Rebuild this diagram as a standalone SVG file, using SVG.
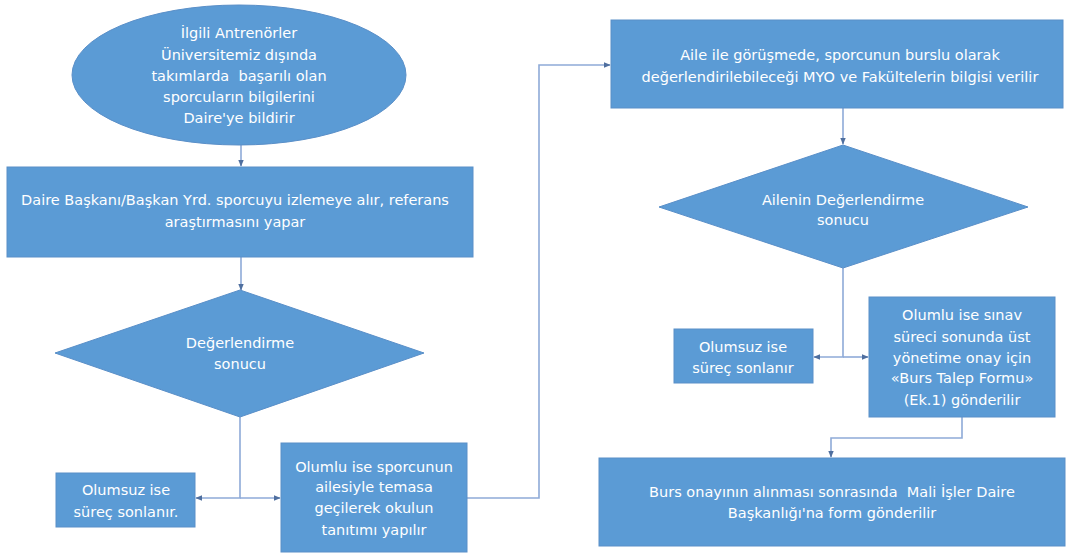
<svg xmlns="http://www.w3.org/2000/svg" width="1069" height="553" viewBox="0 0 1069 553">
<defs>
<style>
.n{fill:#5b9bd5;stroke:#5a8fc8;stroke-width:1}
.t{font-family:"DejaVu Sans",Verdana,sans-serif;font-size:14.5px;fill:#ffffff;text-anchor:middle;white-space:pre}
.c{fill:none;stroke:#8eaad8;stroke-width:1.6}
</style>
<marker id="a" viewBox="0 0 10 10" refX="9" refY="5" markerWidth="7" markerHeight="7" orient="auto" markerUnits="userSpaceOnUse">
<path d="M0,1 L10,5 L0,9 Z" fill="#4f6f9f"/>
</marker>
</defs>
<rect width="1069" height="553" fill="#ffffff"/>
<g id="connectors">
<path class="c" d="M241,145 V166" marker-end="url(#a)"/>
<path class="c" d="M241,257 V290" marker-end="url(#a)"/>
<path class="c" d="M240,417 V498 H196" marker-end="url(#a)"/>
<path class="c" d="M240,498 H280" marker-end="url(#a)"/>
<path class="c" d="M467,498 H539 V65 H610" marker-end="url(#a)"/>
<path class="c" d="M843,108 V144" marker-end="url(#a)"/>
<path class="c" d="M843,268 V357 H814" marker-end="url(#a)"/>
<path class="c" d="M843,357 H868" marker-end="url(#a)"/>
<path class="c" d="M962,417 V438 H831 V457" marker-end="url(#a)"/>
</g>
<g id="start">
<ellipse class="n" cx="239" cy="75" rx="167" ry="70"/>
<text class="t"><tspan x="239" y="38">İlgili Antrenörler</tspan><tspan x="239" y="60">Üniversitemiz dışında</tspan><tspan x="239" y="81">takımlarda  başarılı olan</tspan><tspan x="239" y="102">sporcuların bilgilerini</tspan><tspan x="239" y="123">Daire'ye bildirir</tspan></text>
</g>
<g id="box1">
<rect class="n" x="7" y="167" width="466" height="90"/>
<text class="t"><tspan x="235" y="205">Daire Başkanı/Başkan Yrd. sporcuyu izlemeye alır, referans</tspan><tspan x="235" y="227">araştırmasını yapar</tspan></text>
</g>
<g id="decision1">
<polygon class="n" points="240,290 424,353 240,417 55,353"/>
<text class="t"><tspan x="240" y="348">Değerlendirme</tspan><tspan x="240" y="369">sonucu</tspan></text>
</g>
<g id="neg1">
<rect class="n" x="56" y="473" width="139" height="54"/>
<text class="t"><tspan x="126" y="495">Olumsuz ise</tspan><tspan x="126" y="517">süreç sonlanır.</tspan></text>
</g>
<g id="pos1">
<rect class="n" x="281" y="443" width="186" height="109"/>
<text class="t"><tspan x="374" y="472">Olumlu ise sporcunun</tspan><tspan x="374" y="492">ailesiyle temasa</tspan><tspan x="374" y="513">geçilerek okulun</tspan><tspan x="374" y="535">tanıtımı yapılır</tspan></text>
</g>
<g id="box2">
<rect class="n" x="611" y="20" width="452" height="88"/>
<text class="t"><tspan x="840" y="60">Aile ile görüşmede, sporcunun burslu olarak</tspan><tspan x="840" y="82">değerlendirilebileceği MYO ve Fakültelerin bilgisi verilir</tspan></text>
</g>
<g id="decision2">
<polygon class="n" points="843,145 1028,207 843,268 659,207"/>
<text class="t"><tspan x="843" y="205">Ailenin Değerlendirme</tspan><tspan x="843" y="225">sonucu</tspan></text>
</g>
<g id="neg2">
<rect class="n" x="674" y="329" width="139" height="54"/>
<text class="t"><tspan x="743" y="352">Olumsuz ise</tspan><tspan x="743" y="373">süreç sonlanır</tspan></text>
</g>
<g id="pos2">
<rect class="n" x="869" y="297" width="186" height="120"/>
<text class="t"><tspan x="962" y="320">Olumlu ise sınav</tspan><tspan x="962" y="342">süreci sonunda üst</tspan><tspan x="962" y="363">yönetime onay için</tspan><tspan x="962" y="383">«Burs Talep Formu»</tspan><tspan x="962" y="405">(Ek.1) gönderilir</tspan></text>
</g>
<g id="box3">
<rect class="n" x="599" y="458" width="466" height="88"/>
<text class="t"><tspan x="832" y="497">Burs onayının alınması sonrasında  Mali İşler Daire</tspan><tspan x="832" y="518">Başkanlığı'na form gönderilir</tspan></text>
</g>
</svg>
